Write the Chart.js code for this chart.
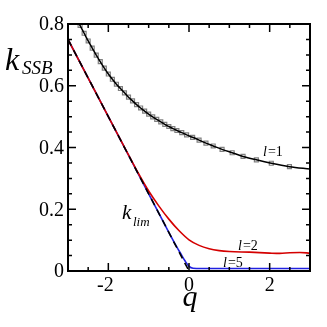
<!DOCTYPE html>
<html><head><meta charset="utf-8">
<script src="https://cdn.jsdelivr.net/npm/chart.js@4/dist/chart.umd.min.js"></script>
<style>html,body{margin:0;padding:0;background:#fff}#wrap{width:327px;height:327px}</style>
</head><body><div id="wrap"><canvas id="c" width="327" height="327"></canvas></div>
<script>
// l=1 curve (q, k) with square markers
const l1Q = [-2.75,-2.7,-2.6,-2.5,-2.4,-2.3,-2.2,-2.1,-2.0,-1.9,-1.8,-1.7,-1.6,-1.5,-1.4,-1.3,-1.2,-1.1,-1.0,-0.9,-0.8,-0.7,-0.6,-0.5,-0.4,-0.3,-0.18,-0.06,0.09,0.25,0.42,0.6,0.82,1.07,1.34,1.67,2.04,2.49,3.0];
const l1K = [0.808,0.795,0.77,0.745,0.722,0.699,0.678,0.657,0.638,0.621,0.605,0.591,0.577,0.563,0.551,0.539,0.528,0.518,0.508,0.499,0.491,0.483,0.475,0.468,0.461,0.455,0.448,0.441,0.433,0.424,0.414,0.405,0.394,0.383,0.371,0.360,0.349,0.338,0.33];
// l=2 curve
const l2Q = [-3,-2.5,-2,-1.5,-1.25,-1.0,-0.75,-0.5,-0.25,0,0.25,0.5,0.75,1.0,1.5,2.0,2.25,2.5,2.75,3.0];
const l2K = [0.75,0.625,0.50,0.376,0.315,0.259,0.211,0.168,0.131,0.101,0.083,0.072,0.066,0.063,0.061,0.058,0.057,0.059,0.06,0.058];
// l=5 curve
const l5Q = [-3,-2,-1,-0.5,-0.3,-0.2,-0.1,0,0.1,0.3,1,2,3];
const l5K = [0.75,0.5,0.25,0.125,0.077,0.055,0.033,0.015,0.009,0.008,0.008,0.008,0.008];
// k_lim line
const limQ = [-3,0];
const limK = [0.75,0];
// axes
const xTicks = [-2,0,2];
const yTicks = [0,0.2,0.4,0.6,0.8];
const yTickLabels = ['0','0.2','0.4','0.6','0.8'];

const pts = (q,k)=>q.map((v,i)=>({x:v,y:k[i]}));
const SERIF = '"Liberation Serif","DejaVu Serif",serif';

const frame = {
  id:'frame',
  afterDatasetsDraw(chart){
    const {ctx, chartArea:a, scales:{x,y}} = chart;
    ctx.save();
    ctx.strokeStyle='#000';
    ctx.lineWidth=1.5;
    for(let v=-3; v<=3.001; v+=0.5){
      const px=x.getPixelForValue(v);
      const major = Math.abs(v%2)<1e-6;
      const L = major?8:4;
      ctx.beginPath();
      ctx.moveTo(px,a.bottom); ctx.lineTo(px,a.bottom-L);
      ctx.moveTo(px,a.top); ctx.lineTo(px,a.top+L);
      ctx.stroke();
    }
    for(let v=0; v<=0.8001; v+=0.05){
      const py=y.getPixelForValue(v);
      const major = Math.abs((v/0.2)-Math.round(v/0.2))<1e-6;
      const L = major?8:4;
      ctx.beginPath();
      ctx.moveTo(a.left,py); ctx.lineTo(a.left+L,py);
      ctx.moveTo(a.right,py); ctx.lineTo(a.right-L,py);
      ctx.stroke();
    }
    ctx.lineWidth=2;
    ctx.strokeRect(a.left,a.top,a.right-a.left,a.bottom-a.top);
    ctx.fillStyle='#000';
    ctx.font='20px '+SERIF;
    ctx.textAlign='right'; ctx.textBaseline='middle';
    yTicks.forEach((v,i)=>ctx.fillText(yTickLabels[i], a.left-4, y.getPixelForValue(v)+1));
    ctx.textAlign='center'; ctx.textBaseline='alphabetic';
    xTicks.forEach(v=>ctx.fillText(String(v), x.getPixelForValue(v)-(v<0?3:0), a.bottom+20));
    ctx.font='italic 30px '+SERIF;
    ctx.textAlign='left'; ctx.textBaseline='alphabetic';
    ctx.font='italic 32px '+SERIF;
    ctx.fillText('k',5,70);
    ctx.font='italic 19px '+SERIF;
    ctx.fillText('SSB',22,74);
    ctx.font='italic 30px '+SERIF;
    ctx.textAlign='center';
    ctx.fillText('q', x.getPixelForValue(0)+1, 306);
    ctx.font='italic 21px '+SERIF;
    ctx.textAlign='left';
    ctx.fillText('k',122,219);
    ctx.font='italic 13px '+SERIF;
    ctx.fillText('lim',133,226);
    const lab=(t,xx,yy)=>{
      ctx.font='italic 14px '+SERIF; ctx.fillText('l',xx,yy);
      const w=ctx.measureText('l').width;
      ctx.font='14px '+SERIF; ctx.fillText(t,xx+w+1,yy);
    };
    lab('=1',263,156);
    lab('=2',238,250);
    lab('=5',223,267);
    ctx.restore();
  }
};

new Chart(document.getElementById('c'),{
  type:'scatter',
  data:{datasets:[
    {data:pts(l1Q,l1K), showLine:false, pointStyle:'rect', pointRadius:l1Q.map((v,i)=>(i===0||i===l1Q.length-1)?0:2.8), pointBorderColor:'#808080', pointBackgroundColor:'rgba(255,255,255,0.7)', pointBorderWidth:1.2, order:5},
    {data:pts(l1Q,l1K), showLine:true, borderColor:'#000', borderWidth:1.5, pointRadius:0, cubicInterpolationMode:'monotone', order:4},
    {data:pts(l5Q,l5K), showLine:true, borderColor:'#2020e0', borderWidth:1.6, pointRadius:0, cubicInterpolationMode:'monotone', order:3},
    {data:pts(l2Q,l2K), showLine:true, borderColor:'#d40000', borderWidth:1.6, pointRadius:0, cubicInterpolationMode:'monotone', order:2},
    {data:pts(limQ,limK), showLine:true, borderColor:'#000', borderWidth:1.6, borderDash:[7,5], pointRadius:0, order:1}
  ]},
  options:{
    responsive:false, animation:false,
    layout:{padding:{left:68,right:17,top:24,bottom:56}},
    plugins:{legend:{display:false},tooltip:{enabled:false}},
    scales:{
      x:{type:'linear',min:-3,max:3,display:false},
      y:{type:'linear',min:0,max:0.8,display:false}
    }
  },
  plugins:[frame]
});
</script></body></html>
